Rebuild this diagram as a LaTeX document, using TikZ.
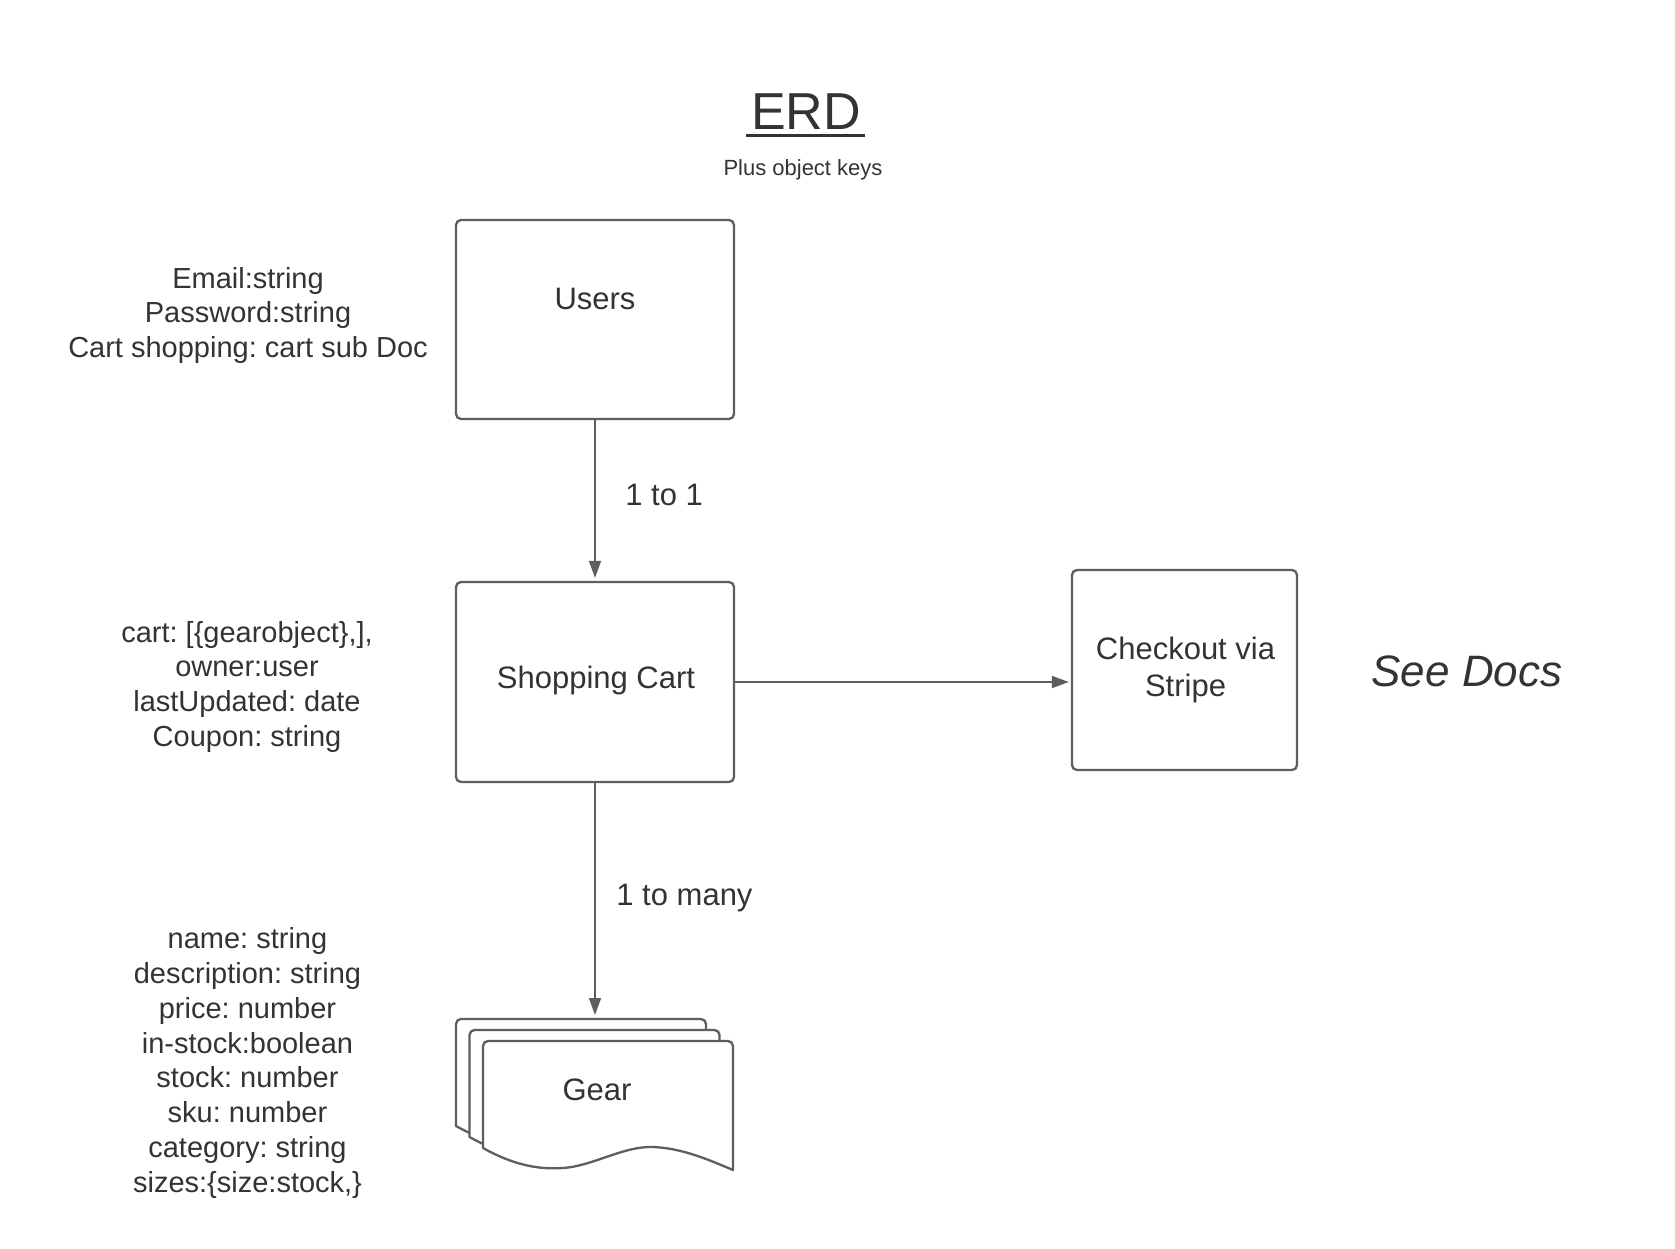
\documentclass[tikz,border=0pt]{standalone}
\usepackage{fontspec}
\setmainfont{Liberation Sans}
\usetikzlibrary{arrows.meta,calc}
\definecolor{ln}{HTML}{5E5E5E}
\definecolor{tx}{HTML}{333333}
\frenchspacing
\begin{document}
\begin{tikzpicture}[x=0.5pt,y=-0.5pt,
  box/.style={draw=ln, line width=1.15pt, rounded corners=2.5pt, inner sep=0pt, fill=white},
  lbl/.style={text=tx, inner sep=0pt, font=\fontsize{15.5}{18.6}\selectfont},
  attr/.style={text=tx, inner sep=0pt, align=center, anchor=north, font=\fontsize{14.5}{17.4}\selectfont},
  conn/.style={draw=ln, line width=0.8pt, -{Triangle[length=8.5pt,width=6pt]}},
  doc/.style={draw=ln, line width=1.15pt, fill=white, line join=round}]
\useasboundingbox (0,0) rectangle (1675,1248);

% title
\node[text=tx, inner sep=0pt, anchor=base, font=\fontsize{26}{31}\selectfont] (erd) at (806,129) {ERD};
\draw[tx, line width=1.5pt] ($(erd.base west)+(-5,6)$) -- ($(erd.base east)+(4,6)$);
\node[text=tx, inner sep=0pt, anchor=base, font=\fontsize{11}{13.2}\selectfont] (sub) at (803,175) {Plus object keys};

% boxes
\node[box, minimum width=139pt, minimum height=99.5pt] (users) at (595,319.5) {};
\node[lbl, anchor=base] (usersl) at (595,309) {Users};
\node[box, minimum width=139pt, minimum height=100pt] (cart) at (595,682) {};
\node[lbl, anchor=base] (cartl) at (596,688) {Shopping Cart};
\node[box, minimum width=112.5pt, minimum height=100pt] (checkout) at (1184.5,670) {};
\node[text=tx, inner sep=0pt, align=center, anchor=north, font=\fontsize{15.5}{18.7}\selectfont] (checkoutl) at (1185.5,633) {\strut Checkout via\\\strut Stripe};
\node[text=tx, inner sep=0pt, anchor=base, font=\fontsize{22}{26}\selectfont\itshape] (docs) at (1467,686.7) {See Docs};

% gear document stack
\foreach \dx/\dy in {-27/-22, -13.5/-11, 0/0} {
  \draw[doc, shift={(\dx,\dy)}] (483,1148) [rounded corners=2.5pt]-- (483,1041) -- (733,1041) [sharp corners]-- (733,1170)
    .. controls (705,1158) and (680,1148) .. (653,1147)
    .. controls (623,1146) and (593,1166) .. (563,1168)
    .. controls (535,1170) and (510,1163) .. (483,1148) -- cycle;
}
\coordinate (geartop) at (595,1019);
\node[lbl, anchor=base] (gearl) at (597,1100.7) {Gear};

% attribute texts
\node[attr] (usersattr) at (248,263.3) {\strut Email:string\\\strut Password:string\\\strut Cart shopping: cart sub Doc};
\node[attr] (cartattr) at (247,617.3) {\strut cart: [\{gearobject\},],\\\strut owner:user\\\strut lastUpdated: date\\\strut Coupon: string};
\node[attr] (gearattr) at (247.5,924) {\strut name: string\\\strut description: string\\\strut price: number\\\strut in-stock:boolean\\\strut stock: number\\\strut sku: number\\\strut category: string\\\strut sizes:\{size:stock,\}};

% connectors
\draw[conn, shorten >=1.5pt] (users.south) -- (cart.north);
\draw[conn, shorten >=1pt] (cart.east) -- (cart.east -| checkout.west);
\draw[conn, shorten >=2pt] (cart.south) -- (geartop);
\node[lbl, anchor=base west] (l1) at (625,505.7) {1 to 1};
\node[lbl, anchor=base west] (l2) at (616,905) {1 to many};
\end{tikzpicture}
\end{document}
